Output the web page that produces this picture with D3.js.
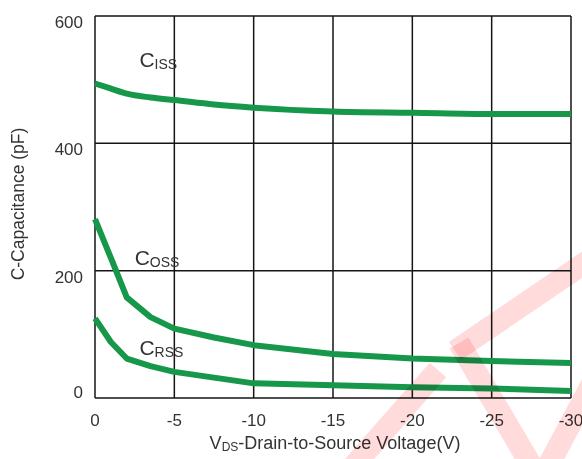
<!DOCTYPE html>
<html>
<head>
<meta charset="utf-8">
<script src="https://cdn.jsdelivr.net/npm/d3@7"></script>
<style>
  html, body { margin: 0; padding: 0; background: #fff; }
  svg { display: block; font-family: "Liberation Sans", Arial, sans-serif; }
</style>
</head>
<body>
<svg id="chart" width="582" height="459"></svg>
<script>
// ---- data ----
const voltage = [0, -1, -2, -3.5, -5, -7.5, -10, -15, -20, -25, -30];
const ciss = [494, 486, 478, 472, 468, 461, 456, 450, 448, 446, 446];
const coss = [281, 220, 158, 127, 109, 95, 83, 69, 62, 58, 55];
const crss = [125, 88, 62, 50, 41, 32, 23, 20, 17, 15, 11];
const xTicks = [0, -5, -10, -15, -20, -25, -30];
const yTicks = [0, 200, 400, 600];
const seriesNames = ["Ciss", "Coss", "Crss"];
const labelMain = ["C", "C", "C"];
const labelSub = ["ISS", "OSS", "RSS"];
const labelAtV = [-2.8, -2.5, -2.8];
const labelAtC = [520, 209, 67];

// ---- layout ----
const svg = d3.select("#chart");
const m = { left: 95, right: 571, top: 16, bottom: 398 };
const x = d3.scaleLinear().domain([0, -30]).range([m.left, m.right]);
const y = d3.scaleLinear().domain([0, 600]).range([m.bottom, m.top]);
const green = "#17974a";
const textColor = "#333333";

// grid
const grid = svg.append("g");
grid.selectAll("line.v").data(xTicks).join("line")
  .attr("x1", d => x(d)).attr("x2", d => x(d))
  .attr("y1", y(600)).attr("y2", y(0))
  .attr("stroke", "#151515").attr("stroke-width", 1.5);
grid.selectAll("line.h").data(yTicks).join("line")
  .attr("y1", d => y(d)).attr("y2", d => y(d))
  .attr("x1", x(0)).attr("x2", x(-30))
  .attr("stroke", "#151515").attr("stroke-width", 1.5);

// tick labels
svg.append("g").selectAll("text").data(yTicks).join("text")
  .attr("x", m.left - 12)
  .attr("y", d => y(d) + (d === 0 ? -6 : 6))
  .attr("dy", "0.35em")
  .attr("text-anchor", "end")
  .attr("font-size", 17).attr("fill", textColor)
  .text(d => d);
svg.append("g").selectAll("text").data(xTicks).join("text")
  .attr("x", d => x(d))
  .attr("y", 426)
  .attr("text-anchor", "middle")
  .attr("font-size", 17).attr("fill", textColor)
  .text(d => d);

// axis titles
const xt = svg.append("text")
  .attr("x", 335).attr("y", 449)
  .attr("text-anchor", "middle")
  .attr("font-size", 18).attr("fill", textColor);
xt.append("tspan").text("V");
xt.append("tspan").attr("font-size", 12).attr("dy", 2).text("DS");
xt.append("tspan").attr("dy", -2).text("-Drain-to-Source Voltage(V)");

svg.append("text")
  .attr("transform", "translate(24,204) rotate(-90)")
  .attr("text-anchor", "middle")
  .attr("font-size", 17.5).attr("fill", textColor)
  .text("C-Capacitance (pF)");

// curves
const smooth = d3.line().x((d, i) => x(voltage[i])).y(d => y(d)).curve(d3.curveMonotoneX);
const straight = d3.line().x((d, i) => x(voltage[i])).y(d => y(d)).curve(d3.curveLinear);
const curves = [
  { values: ciss, gen: smooth },
  { values: coss, gen: straight },
  { values: crss, gen: straight }
];
svg.append("g").selectAll("path").data(curves).join("path")
  .attr("d", d => d.gen(d.values))
  .attr("fill", "none")
  .attr("stroke", green)
  .attr("stroke-width", 6)
  .attr("stroke-linecap", "butt")
  .attr("stroke-linejoin", "round");

// curve labels
seriesNames.forEach((n, i) => {
  const t = svg.append("text")
    .attr("x", x(labelAtV[i])).attr("y", y(labelAtC[i]))
    .attr("font-size", 21).attr("fill", textColor);
  t.append("tspan").text(labelMain[i]);
  t.append("tspan").attr("font-size", 14).attr("dy", 2).text(labelSub[i]);
});

// faint red watermark stripes (decoration from the source image)
const stripes = [
  [[350, 470], [438, 370]],
  [[455, 351], [595, 256]],
  [[459, 343], [534, 470]],
  [[546, 470], [595, 378]]
];
svg.append("g").style("mix-blend-mode", "multiply")
  .selectAll("line").data(stripes).join("line")
  .attr("x1", d => d[0][0]).attr("y1", d => d[0][1])
  .attr("x2", d => d[1][0]).attr("y2", d => d[1][1])
  .attr("stroke", "rgba(255,40,40,0.17)")
  .attr("stroke-width", 22);
</script>
</body>
</html>
